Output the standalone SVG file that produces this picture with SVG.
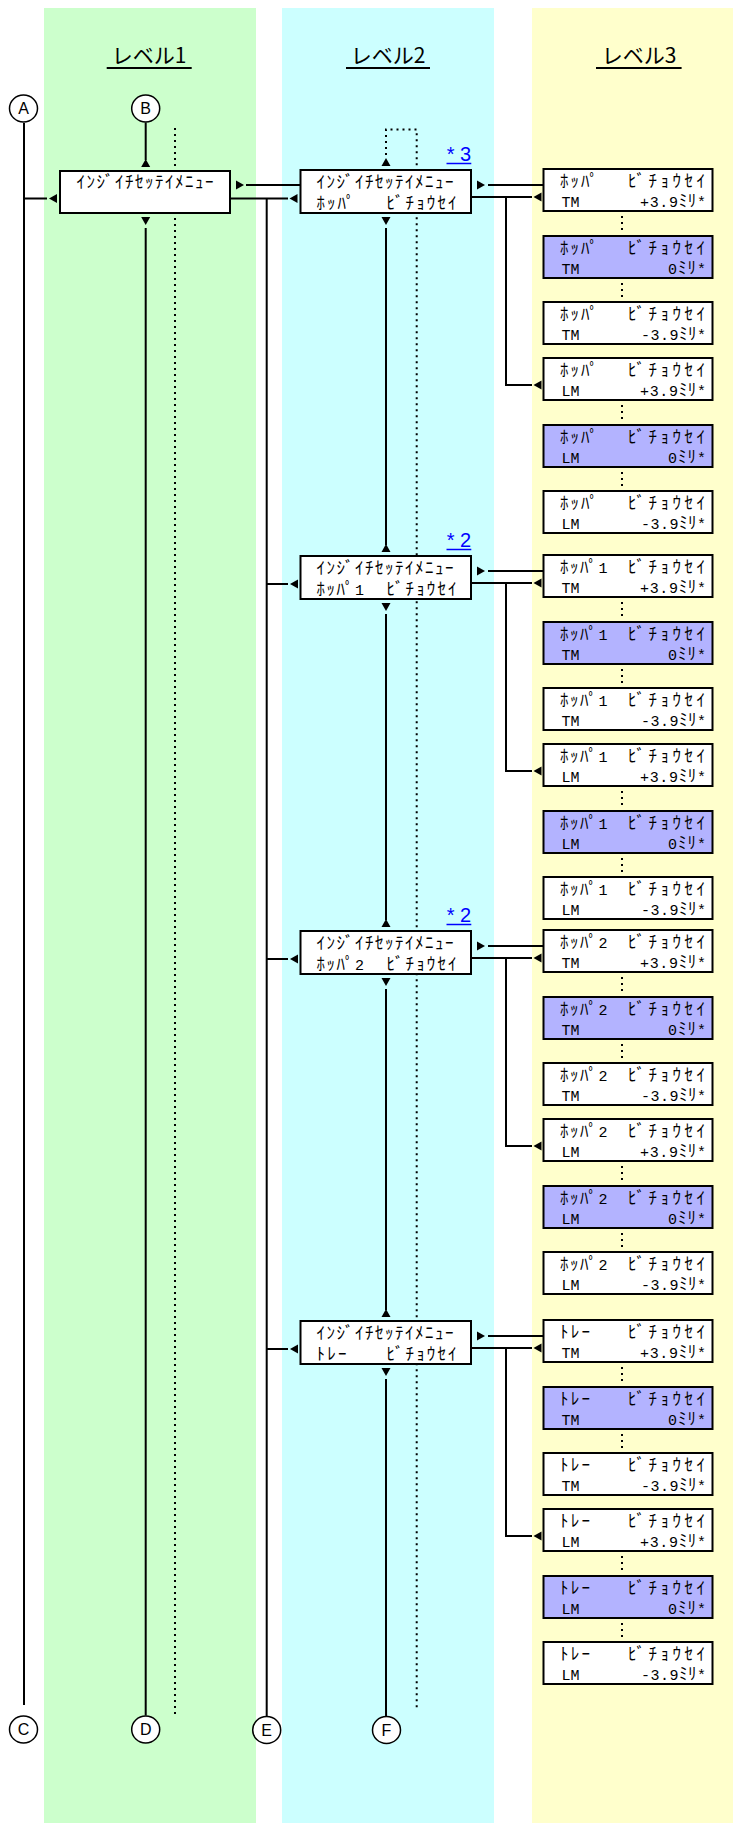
<svg xmlns="http://www.w3.org/2000/svg" xmlns:xlink="http://www.w3.org/1999/xlink" width="733" height="1823" viewBox="0 0 733 1823">
<style>
.bg{fill:#fff}
.cg{fill:#CCFFCC}.cc{fill:#CCFFFF}.cy{fill:#FFFFCC}
.box{fill:#fff;stroke:#000;stroke-width:2}
.hl{fill:#B3B3FF;stroke:#000;stroke-width:2}
.ln{stroke:#000;stroke-width:2;fill:none}
.dt{stroke:#000;stroke-width:2;stroke-dasharray:2 4;fill:none}
.ah{fill:#000}
.t{font-family:"Liberation Mono","Noto Sans CJK JP",monospace;font-size:15px;fill:#000}
.k{font-size:17px}
.h{font-family:"Noto Sans CJK JP",sans-serif;font-size:21px;text-anchor:middle;fill:#000}
.lk{font-family:"Liberation Sans",sans-serif;font-size:20px;fill:#0000FF}
.lku{stroke:#0000FF;stroke-width:1.5}
.ci{fill:#fff;stroke:#000;stroke-width:1.5}
.cl{font-family:"Liberation Sans",sans-serif;font-size:16px;text-anchor:middle;fill:#000}
</style>
<defs>
<path id="aL" d="M0,0 L8,-4.5 L8,4.5Z"/>
<path id="aR" d="M0,0 L-8,-4.5 L-8,4.5Z"/>
<path id="aU" d="M0,0 L-4.5,8 L4.5,8Z"/>
<path id="aD" d="M0,0 L-4.5,-8 L4.5,-8Z"/>
</defs>
<rect class="bg" x="0" y="0" width="733" height="1823"/>
<g id="columns">
<rect class="cg" x="44" y="8" width="212" height="1815"/>
<rect class="cc" x="282" y="8" width="212" height="1815"/>
<rect class="cy" x="532" y="8" width="201" height="1815"/>
</g>
<g id="headings">
<text class="h" x="149" y="63">レベル1</text>
<line class="ln" x1="106.7" y1="68" x2="191.7" y2="68"/>
<text class="h" x="388" y="63">レベル2</text>
<line class="ln" x1="346" y1="68" x2="430" y2="68"/>
<text class="h" x="639" y="63">レベル3</text>
<line class="ln" x1="596" y1="68" x2="681.6" y2="68"/>
</g>
<g id="connectors">
<path class="ln" d="M24,123 V1705 M24,198.5 H47 M145.7,122.5 V160 M145.7,228 V1715.5 M246,185 H300.5 M230,198.5 H288 M266.7,198.5 V1716.5"/>
<path class="ln" d="M266.7,584 H288 M266.7,959 H288 M266.7,1349 H288"/>
<path class="ln" d="M386,228 V545 M386,614 V920 M386,989 V1310 M386,1379 V1716.5"/>
<path class="ln" d="M488,185 H543.5 M471,197 H532 M506,197 V385 H532"/>
<path class="ln" d="M488,571 H543.5 M471,583 H532 M506,583 V771 H532"/>
<path class="ln" d="M488,946 H543.5 M471,958 H532 M506,958 V1146 H532"/>
<path class="ln" d="M488,1336 H543.5 M471,1348 H532 M506,1348 V1536 H532"/>
<path class="dt" d="M175,128 V1716 M386,155 V129.5 H416.7 V1711"/>
<path class="dt" d="M622,216 V231 M622,283 V298 M622,405 V420 M622,472 V487 M622,602 V617 M622,669 V684 M622,791 V806 M622,858 V873 M622,977 V992 M622,1044 V1059 M622,1166 V1181 M622,1233 V1248 M622,1367 V1382 M622,1434 V1449 M622,1556 V1571 M622,1623 V1638"/>
<g class="ah">
<use xlink:href="#aL" x="49" y="198.5"/>
<use xlink:href="#aU" x="145.7" y="159"/>
<use xlink:href="#aD" x="145.7" y="225"/>
<use xlink:href="#aR" x="244" y="185"/>
<use xlink:href="#aL" x="289.5" y="198.5"/>
<use xlink:href="#aL" x="290" y="584"/>
<use xlink:href="#aL" x="290" y="959"/>
<use xlink:href="#aL" x="290" y="1349"/>
<use xlink:href="#aU" x="386" y="158"/>
<use xlink:href="#aD" x="386" y="225"/>
<use xlink:href="#aU" x="386" y="544"/>
<use xlink:href="#aD" x="386" y="611"/>
<use xlink:href="#aU" x="386" y="919"/>
<use xlink:href="#aD" x="386" y="986"/>
<use xlink:href="#aU" x="386" y="1309"/>
<use xlink:href="#aD" x="386" y="1376"/>
<use xlink:href="#aR" x="485" y="185"/>
<use xlink:href="#aR" x="485" y="571"/>
<use xlink:href="#aR" x="485" y="946"/>
<use xlink:href="#aR" x="485" y="1336"/>
<use xlink:href="#aL" x="533.5" y="197"/>
<use xlink:href="#aL" x="533.5" y="385"/>
<use xlink:href="#aL" x="533.5" y="583"/>
<use xlink:href="#aL" x="533.5" y="771"/>
<use xlink:href="#aL" x="533.5" y="958"/>
<use xlink:href="#aL" x="533.5" y="1146"/>
<use xlink:href="#aL" x="533.5" y="1348"/>
<use xlink:href="#aL" x="533.5" y="1536"/>
</g>
</g>
<g id="circleA"><ellipse class="ci" cx="23.5" cy="108.5" rx="14" ry="13.5"/><text class="cl" x="23.5" y="114.3">A</text></g>
<g id="circleB"><ellipse class="ci" cx="145.7" cy="108.5" rx="14" ry="13.5"/><text class="cl" x="145.7" y="114.3">B</text></g>
<g id="circleC"><ellipse class="ci" cx="23.5" cy="1729.5" rx="14" ry="13.5"/><text class="cl" x="23.5" y="1735.3">C</text></g>
<g id="circleD"><ellipse class="ci" cx="145.7" cy="1729.5" rx="14" ry="13.5"/><text class="cl" x="145.7" y="1735.3">D</text></g>
<g id="circleE"><ellipse class="ci" cx="266.7" cy="1730" rx="14" ry="13.5"/><text class="cl" x="266.7" y="1735.8">E</text></g>
<g id="circleF"><ellipse class="ci" cx="386.5" cy="1730" rx="14" ry="13.5"/><text class="cl" x="386.5" y="1735.8">F</text></g>

<g id="l1-menu"><rect class="box" x="60" y="171" width="170" height="42"/><text class="t k" x="76.5" y="188" textLength="137" lengthAdjust="spacing">ｲﾝｼﾞｲﾁｾｯﾃｲﾒﾆｭｰ</text></g>

<g id="l2-hopper"><rect class="box" x="300.5" y="170" width="170.5" height="43"/><text class="t k" x="316.5" y="187.5" textLength="137" lengthAdjust="spacing">ｲﾝｼﾞｲﾁｾｯﾃｲﾒﾆｭｰ</text><text class="t k" x="316.5" y="209" textLength="38" lengthAdjust="spacing">ﾎｯﾊﾟ</text><text class="t k" x="386.5" y="209" textLength="70" lengthAdjust="spacing">ﾋﾞﾁｮｳｾｲ</text>
<text class="lk" x="446.7" y="160.5" textLength="24.5" lengthAdjust="spacing">* 3</text><line class="lku" x1="446.5" y1="163.5" x2="471.3" y2="163.5"/></g>
<g id="l2-hopper1"><rect class="box" x="300.5" y="556" width="170.5" height="43"/><text class="t k" x="316.5" y="573.5" textLength="137" lengthAdjust="spacing">ｲﾝｼﾞｲﾁｾｯﾃｲﾒﾆｭｰ</text><text class="t" x="316.5" y="595" textLength="47.5" lengthAdjust="spacing"><tspan class="k">ﾎｯﾊﾟ</tspan>1</text><text class="t k" x="386.5" y="595" textLength="70" lengthAdjust="spacing">ﾋﾞﾁｮｳｾｲ</text>
<text class="lk" x="446.7" y="546.5" textLength="24.5" lengthAdjust="spacing">* 2</text><line class="lku" x1="446.5" y1="549.5" x2="471.3" y2="549.5"/></g>
<g id="l2-hopper2"><rect class="box" x="300.5" y="931" width="170.5" height="43"/><text class="t k" x="316.5" y="948.5" textLength="137" lengthAdjust="spacing">ｲﾝｼﾞｲﾁｾｯﾃｲﾒﾆｭｰ</text><text class="t" x="316.5" y="970" textLength="47.5" lengthAdjust="spacing"><tspan class="k">ﾎｯﾊﾟ</tspan>2</text><text class="t k" x="386.5" y="970" textLength="70" lengthAdjust="spacing">ﾋﾞﾁｮｳｾｲ</text>
<text class="lk" x="446.7" y="921.5" textLength="24.5" lengthAdjust="spacing">* 2</text><line class="lku" x1="446.5" y1="924.5" x2="471.3" y2="924.5"/></g>
<g id="l2-tray"><rect class="box" x="300.5" y="1321" width="170.5" height="43"/><text class="t k" x="316.5" y="1338.5" textLength="137" lengthAdjust="spacing">ｲﾝｼﾞｲﾁｾｯﾃｲﾒﾆｭｰ</text><text class="t k" x="316.5" y="1360" textLength="30" lengthAdjust="spacing">ﾄﾚｰ</text><text class="t k" x="386.5" y="1360" textLength="70" lengthAdjust="spacing">ﾋﾞﾁｮｳｾｲ</text></g>

<g id="l3-h-tm-p"><rect class="box" x="543.5" y="169" width="169" height="42"/><text class="t k" x="560" y="186.5" textLength="38" lengthAdjust="spacing">ﾎｯﾊﾟ</text><text class="t k" x="628" y="186.5" textLength="77" lengthAdjust="spacing">ﾋﾞﾁｮｳｾｲ</text><text class="t" x="561.5" y="206.5" textLength="18" lengthAdjust="spacing">TM</text><text class="t" x="640" y="206.5" textLength="66" lengthAdjust="spacing">+3.9<tspan class="k">ﾐﾘ</tspan>*</text></g>
<g id="l3-h-tm-0"><rect class="hl" x="543.5" y="236" width="169" height="42"/><text class="t k" x="560" y="253.5" textLength="38" lengthAdjust="spacing">ﾎｯﾊﾟ</text><text class="t k" x="628" y="253.5" textLength="77" lengthAdjust="spacing">ﾋﾞﾁｮｳｾｲ</text><text class="t" x="561.5" y="273.5" textLength="18" lengthAdjust="spacing">TM</text><text class="t" x="668" y="273.5" textLength="38" lengthAdjust="spacing">0<tspan class="k">ﾐﾘ</tspan>*</text></g>
<g id="l3-h-tm-m"><rect class="box" x="543.5" y="302" width="169" height="42"/><text class="t k" x="560" y="319.5" textLength="38" lengthAdjust="spacing">ﾎｯﾊﾟ</text><text class="t k" x="628" y="319.5" textLength="77" lengthAdjust="spacing">ﾋﾞﾁｮｳｾｲ</text><text class="t" x="561.5" y="339.5" textLength="18" lengthAdjust="spacing">TM</text><text class="t" x="641" y="339.5" textLength="65" lengthAdjust="spacing">-3.9<tspan class="k">ﾐﾘ</tspan>*</text></g>
<g id="l3-h-lm-p"><rect class="box" x="543.5" y="358" width="169" height="42"/><text class="t k" x="560" y="375.5" textLength="38" lengthAdjust="spacing">ﾎｯﾊﾟ</text><text class="t k" x="628" y="375.5" textLength="77" lengthAdjust="spacing">ﾋﾞﾁｮｳｾｲ</text><text class="t" x="561.5" y="395.5" textLength="18" lengthAdjust="spacing">LM</text><text class="t" x="640" y="395.5" textLength="66" lengthAdjust="spacing">+3.9<tspan class="k">ﾐﾘ</tspan>*</text></g>
<g id="l3-h-lm-0"><rect class="hl" x="543.5" y="425" width="169" height="42"/><text class="t k" x="560" y="442.5" textLength="38" lengthAdjust="spacing">ﾎｯﾊﾟ</text><text class="t k" x="628" y="442.5" textLength="77" lengthAdjust="spacing">ﾋﾞﾁｮｳｾｲ</text><text class="t" x="561.5" y="462.5" textLength="18" lengthAdjust="spacing">LM</text><text class="t" x="668" y="462.5" textLength="38" lengthAdjust="spacing">0<tspan class="k">ﾐﾘ</tspan>*</text></g>
<g id="l3-h-lm-m"><rect class="box" x="543.5" y="491" width="169" height="42"/><text class="t k" x="560" y="508.5" textLength="38" lengthAdjust="spacing">ﾎｯﾊﾟ</text><text class="t k" x="628" y="508.5" textLength="77" lengthAdjust="spacing">ﾋﾞﾁｮｳｾｲ</text><text class="t" x="561.5" y="528.5" textLength="18" lengthAdjust="spacing">LM</text><text class="t" x="641" y="528.5" textLength="65" lengthAdjust="spacing">-3.9<tspan class="k">ﾐﾘ</tspan>*</text></g>

<g id="l3-h1-tm-p"><rect class="box" x="543.5" y="555" width="169" height="42"/><text class="t" x="560" y="572.5" textLength="47.5" lengthAdjust="spacing"><tspan class="k">ﾎｯﾊﾟ</tspan>1</text><text class="t k" x="628" y="572.5" textLength="77" lengthAdjust="spacing">ﾋﾞﾁｮｳｾｲ</text><text class="t" x="561.5" y="592.5" textLength="18" lengthAdjust="spacing">TM</text><text class="t" x="640" y="592.5" textLength="66" lengthAdjust="spacing">+3.9<tspan class="k">ﾐﾘ</tspan>*</text></g>
<g id="l3-h1-tm-0"><rect class="hl" x="543.5" y="622" width="169" height="42"/><text class="t" x="560" y="639.5" textLength="47.5" lengthAdjust="spacing"><tspan class="k">ﾎｯﾊﾟ</tspan>1</text><text class="t k" x="628" y="639.5" textLength="77" lengthAdjust="spacing">ﾋﾞﾁｮｳｾｲ</text><text class="t" x="561.5" y="659.5" textLength="18" lengthAdjust="spacing">TM</text><text class="t" x="668" y="659.5" textLength="38" lengthAdjust="spacing">0<tspan class="k">ﾐﾘ</tspan>*</text></g>
<g id="l3-h1-tm-m"><rect class="box" x="543.5" y="688" width="169" height="42"/><text class="t" x="560" y="705.5" textLength="47.5" lengthAdjust="spacing"><tspan class="k">ﾎｯﾊﾟ</tspan>1</text><text class="t k" x="628" y="705.5" textLength="77" lengthAdjust="spacing">ﾋﾞﾁｮｳｾｲ</text><text class="t" x="561.5" y="725.5" textLength="18" lengthAdjust="spacing">TM</text><text class="t" x="641" y="725.5" textLength="65" lengthAdjust="spacing">-3.9<tspan class="k">ﾐﾘ</tspan>*</text></g>
<g id="l3-h1-lm-p"><rect class="box" x="543.5" y="744" width="169" height="42"/><text class="t" x="560" y="761.5" textLength="47.5" lengthAdjust="spacing"><tspan class="k">ﾎｯﾊﾟ</tspan>1</text><text class="t k" x="628" y="761.5" textLength="77" lengthAdjust="spacing">ﾋﾞﾁｮｳｾｲ</text><text class="t" x="561.5" y="781.5" textLength="18" lengthAdjust="spacing">LM</text><text class="t" x="640" y="781.5" textLength="66" lengthAdjust="spacing">+3.9<tspan class="k">ﾐﾘ</tspan>*</text></g>
<g id="l3-h1-lm-0"><rect class="hl" x="543.5" y="811" width="169" height="42"/><text class="t" x="560" y="828.5" textLength="47.5" lengthAdjust="spacing"><tspan class="k">ﾎｯﾊﾟ</tspan>1</text><text class="t k" x="628" y="828.5" textLength="77" lengthAdjust="spacing">ﾋﾞﾁｮｳｾｲ</text><text class="t" x="561.5" y="848.5" textLength="18" lengthAdjust="spacing">LM</text><text class="t" x="668" y="848.5" textLength="38" lengthAdjust="spacing">0<tspan class="k">ﾐﾘ</tspan>*</text></g>
<g id="l3-h1-lm-m"><rect class="box" x="543.5" y="877" width="169" height="42"/><text class="t" x="560" y="894.5" textLength="47.5" lengthAdjust="spacing"><tspan class="k">ﾎｯﾊﾟ</tspan>1</text><text class="t k" x="628" y="894.5" textLength="77" lengthAdjust="spacing">ﾋﾞﾁｮｳｾｲ</text><text class="t" x="561.5" y="914.5" textLength="18" lengthAdjust="spacing">LM</text><text class="t" x="641" y="914.5" textLength="65" lengthAdjust="spacing">-3.9<tspan class="k">ﾐﾘ</tspan>*</text></g>

<g id="l3-h2-tm-p"><rect class="box" x="543.5" y="930" width="169" height="42"/><text class="t" x="560" y="947.5" textLength="47.5" lengthAdjust="spacing"><tspan class="k">ﾎｯﾊﾟ</tspan>2</text><text class="t k" x="628" y="947.5" textLength="77" lengthAdjust="spacing">ﾋﾞﾁｮｳｾｲ</text><text class="t" x="561.5" y="967.5" textLength="18" lengthAdjust="spacing">TM</text><text class="t" x="640" y="967.5" textLength="66" lengthAdjust="spacing">+3.9<tspan class="k">ﾐﾘ</tspan>*</text></g>
<g id="l3-h2-tm-0"><rect class="hl" x="543.5" y="997" width="169" height="42"/><text class="t" x="560" y="1014.5" textLength="47.5" lengthAdjust="spacing"><tspan class="k">ﾎｯﾊﾟ</tspan>2</text><text class="t k" x="628" y="1014.5" textLength="77" lengthAdjust="spacing">ﾋﾞﾁｮｳｾｲ</text><text class="t" x="561.5" y="1034.5" textLength="18" lengthAdjust="spacing">TM</text><text class="t" x="668" y="1034.5" textLength="38" lengthAdjust="spacing">0<tspan class="k">ﾐﾘ</tspan>*</text></g>
<g id="l3-h2-tm-m"><rect class="box" x="543.5" y="1063" width="169" height="42"/><text class="t" x="560" y="1080.5" textLength="47.5" lengthAdjust="spacing"><tspan class="k">ﾎｯﾊﾟ</tspan>2</text><text class="t k" x="628" y="1080.5" textLength="77" lengthAdjust="spacing">ﾋﾞﾁｮｳｾｲ</text><text class="t" x="561.5" y="1100.5" textLength="18" lengthAdjust="spacing">TM</text><text class="t" x="641" y="1100.5" textLength="65" lengthAdjust="spacing">-3.9<tspan class="k">ﾐﾘ</tspan>*</text></g>
<g id="l3-h2-lm-p"><rect class="box" x="543.5" y="1119" width="169" height="42"/><text class="t" x="560" y="1136.5" textLength="47.5" lengthAdjust="spacing"><tspan class="k">ﾎｯﾊﾟ</tspan>2</text><text class="t k" x="628" y="1136.5" textLength="77" lengthAdjust="spacing">ﾋﾞﾁｮｳｾｲ</text><text class="t" x="561.5" y="1156.5" textLength="18" lengthAdjust="spacing">LM</text><text class="t" x="640" y="1156.5" textLength="66" lengthAdjust="spacing">+3.9<tspan class="k">ﾐﾘ</tspan>*</text></g>
<g id="l3-h2-lm-0"><rect class="hl" x="543.5" y="1186" width="169" height="42"/><text class="t" x="560" y="1203.5" textLength="47.5" lengthAdjust="spacing"><tspan class="k">ﾎｯﾊﾟ</tspan>2</text><text class="t k" x="628" y="1203.5" textLength="77" lengthAdjust="spacing">ﾋﾞﾁｮｳｾｲ</text><text class="t" x="561.5" y="1223.5" textLength="18" lengthAdjust="spacing">LM</text><text class="t" x="668" y="1223.5" textLength="38" lengthAdjust="spacing">0<tspan class="k">ﾐﾘ</tspan>*</text></g>
<g id="l3-h2-lm-m"><rect class="box" x="543.5" y="1252" width="169" height="42"/><text class="t" x="560" y="1269.5" textLength="47.5" lengthAdjust="spacing"><tspan class="k">ﾎｯﾊﾟ</tspan>2</text><text class="t k" x="628" y="1269.5" textLength="77" lengthAdjust="spacing">ﾋﾞﾁｮｳｾｲ</text><text class="t" x="561.5" y="1289.5" textLength="18" lengthAdjust="spacing">LM</text><text class="t" x="641" y="1289.5" textLength="65" lengthAdjust="spacing">-3.9<tspan class="k">ﾐﾘ</tspan>*</text></g>

<g id="l3-t-tm-p"><rect class="box" x="543.5" y="1320" width="169" height="42"/><text class="t k" x="560" y="1337.5" textLength="30" lengthAdjust="spacing">ﾄﾚｰ</text><text class="t k" x="628" y="1337.5" textLength="77" lengthAdjust="spacing">ﾋﾞﾁｮｳｾｲ</text><text class="t" x="561.5" y="1357.5" textLength="18" lengthAdjust="spacing">TM</text><text class="t" x="640" y="1357.5" textLength="66" lengthAdjust="spacing">+3.9<tspan class="k">ﾐﾘ</tspan>*</text></g>
<g id="l3-t-tm-0"><rect class="hl" x="543.5" y="1387" width="169" height="42"/><text class="t k" x="560" y="1404.5" textLength="30" lengthAdjust="spacing">ﾄﾚｰ</text><text class="t k" x="628" y="1404.5" textLength="77" lengthAdjust="spacing">ﾋﾞﾁｮｳｾｲ</text><text class="t" x="561.5" y="1424.5" textLength="18" lengthAdjust="spacing">TM</text><text class="t" x="668" y="1424.5" textLength="38" lengthAdjust="spacing">0<tspan class="k">ﾐﾘ</tspan>*</text></g>
<g id="l3-t-tm-m"><rect class="box" x="543.5" y="1453" width="169" height="42"/><text class="t k" x="560" y="1470.5" textLength="30" lengthAdjust="spacing">ﾄﾚｰ</text><text class="t k" x="628" y="1470.5" textLength="77" lengthAdjust="spacing">ﾋﾞﾁｮｳｾｲ</text><text class="t" x="561.5" y="1490.5" textLength="18" lengthAdjust="spacing">TM</text><text class="t" x="641" y="1490.5" textLength="65" lengthAdjust="spacing">-3.9<tspan class="k">ﾐﾘ</tspan>*</text></g>
<g id="l3-t-lm-p"><rect class="box" x="543.5" y="1509" width="169" height="42"/><text class="t k" x="560" y="1526.5" textLength="30" lengthAdjust="spacing">ﾄﾚｰ</text><text class="t k" x="628" y="1526.5" textLength="77" lengthAdjust="spacing">ﾋﾞﾁｮｳｾｲ</text><text class="t" x="561.5" y="1546.5" textLength="18" lengthAdjust="spacing">LM</text><text class="t" x="640" y="1546.5" textLength="66" lengthAdjust="spacing">+3.9<tspan class="k">ﾐﾘ</tspan>*</text></g>
<g id="l3-t-lm-0"><rect class="hl" x="543.5" y="1576" width="169" height="42"/><text class="t k" x="560" y="1593.5" textLength="30" lengthAdjust="spacing">ﾄﾚｰ</text><text class="t k" x="628" y="1593.5" textLength="77" lengthAdjust="spacing">ﾋﾞﾁｮｳｾｲ</text><text class="t" x="561.5" y="1613.5" textLength="18" lengthAdjust="spacing">LM</text><text class="t" x="668" y="1613.5" textLength="38" lengthAdjust="spacing">0<tspan class="k">ﾐﾘ</tspan>*</text></g>
<g id="l3-t-lm-m"><rect class="box" x="543.5" y="1642" width="169" height="42"/><text class="t k" x="560" y="1659.5" textLength="30" lengthAdjust="spacing">ﾄﾚｰ</text><text class="t k" x="628" y="1659.5" textLength="77" lengthAdjust="spacing">ﾋﾞﾁｮｳｾｲ</text><text class="t" x="561.5" y="1679.5" textLength="18" lengthAdjust="spacing">LM</text><text class="t" x="641" y="1679.5" textLength="65" lengthAdjust="spacing">-3.9<tspan class="k">ﾐﾘ</tspan>*</text></g>
</svg>
